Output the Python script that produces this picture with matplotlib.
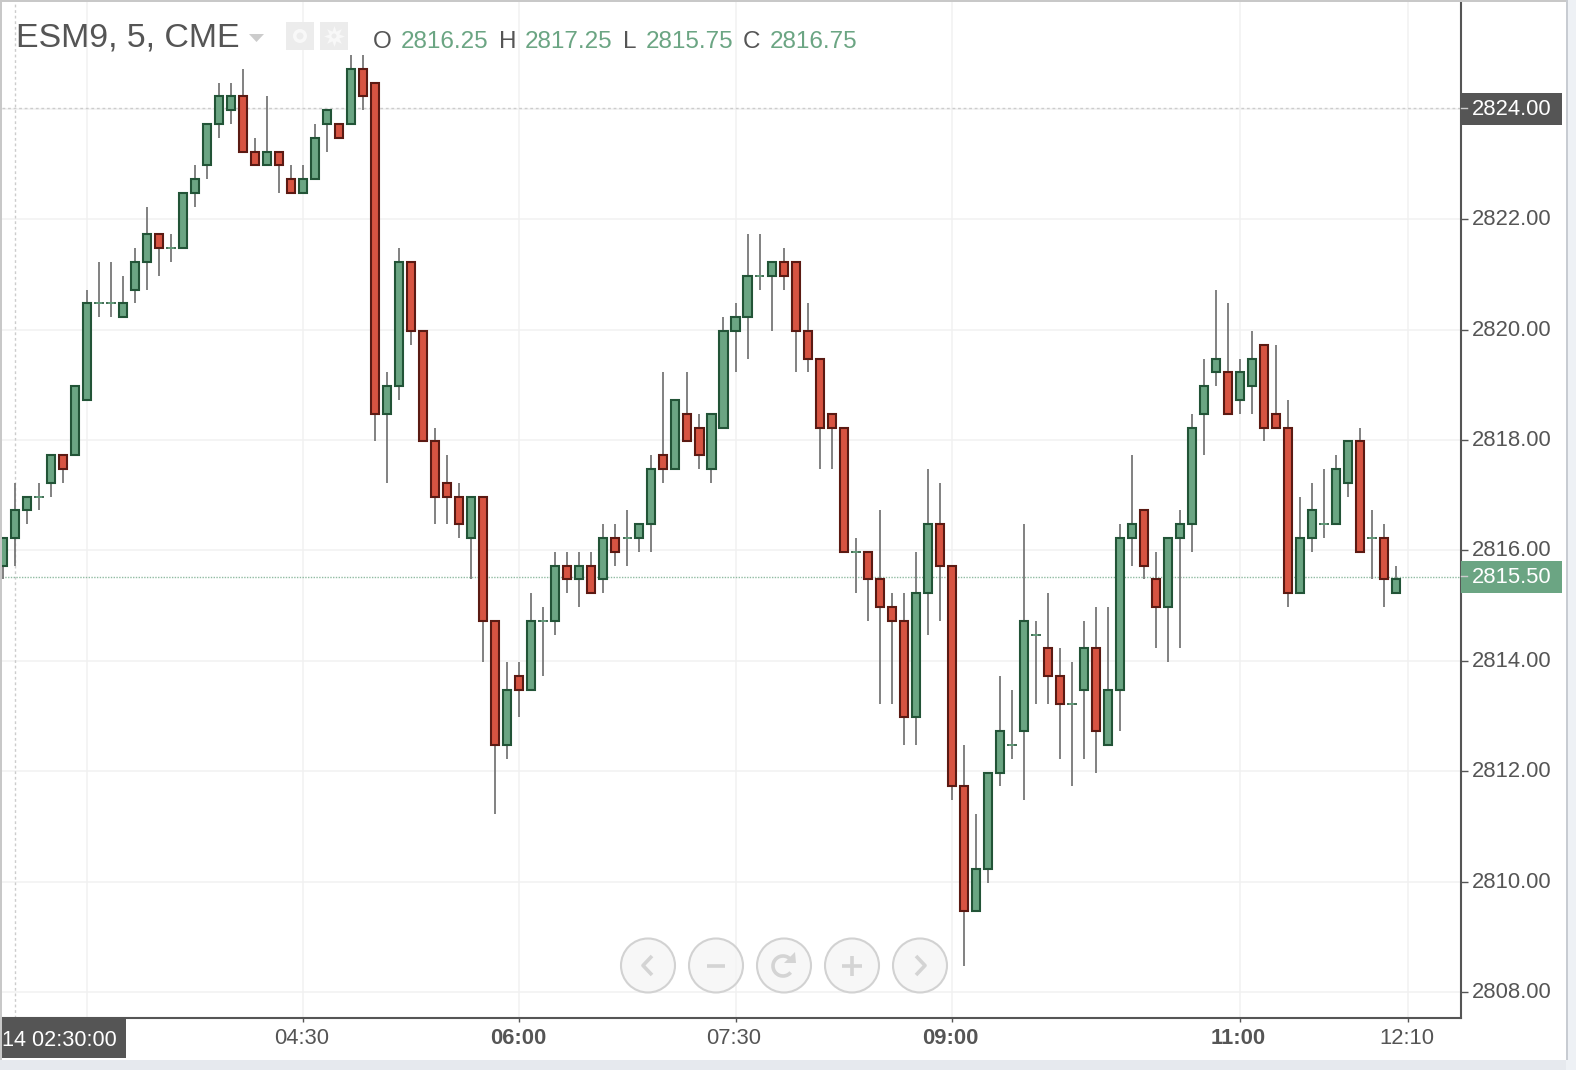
import matplotlib
matplotlib.use("Agg")
import matplotlib.pyplot as plt
from matplotlib.patches import Arc, Circle, Rectangle
from matplotlib.transforms import Affine2D

plt.rcParams["font.family"] = ["Liberation Sans", "DejaVu Sans"]

opens = [
    2815.75, 2816.25, 2816.75, 2817, 2817.25, 2817.75, 2817.75, 2818.75, 2820.5, 2820.5,
    2820.25, 2820.75, 2821.25, 2821.75, 2821.5, 2821.5, 2822.5, 2823, 2823.75, 2824,
    2824.25, 2823.25, 2823, 2823.25, 2822.75, 2822.5, 2822.75, 2823.75, 2823.75, 2823.75,
    2824.75, 2824.5, 2818.5, 2819, 2821.25, 2820, 2818, 2817.25, 2817, 2816.25,
    2817, 2814.75, 2812.5, 2813.75, 2813.5, 2814.75, 2814.75, 2815.75, 2815.5, 2815.75,
    2815.5, 2816.25, 2816.25, 2816.25, 2816.5, 2817.75, 2817.5, 2818.5, 2818.25, 2817.5,
    2818.25, 2820, 2820.25, 2821, 2821, 2821.25, 2821.25, 2820, 2819.5, 2818.5,
    2818.25, 2816, 2816, 2815.5, 2815, 2814.75, 2813, 2815.25, 2816.5, 2815.75,
    2811.75, 2809.5, 2810.25, 2812, 2812.5, 2812.75, 2814.5, 2814.25, 2813.75, 2813.25,
    2813.5, 2814.25, 2812.5, 2813.5, 2816.25, 2816.75, 2815.5, 2815, 2816.25, 2816.5,
    2818.5, 2819.25, 2819.25, 2818.75, 2819, 2819.75, 2818.5, 2818.25, 2815.25, 2816.25,
    2816.5, 2816.5, 2817.25, 2818, 2816.25, 2816.25, 2815.25,
]
highs = [
    2816.25, 2817.25, 2817, 2817.25, 2817.75, 2817.75, 2819, 2820.75, 2821.25, 2821.25,
    2821, 2821.5, 2822.25, 2821.75, 2821.75, 2822.5, 2823, 2823.75, 2824.5, 2824.5,
    2824.75, 2823.5, 2824.25, 2823.25, 2823, 2823, 2823.75, 2824, 2823.75, 2825,
    2825, 2824.5, 2819.25, 2821.5, 2821.25, 2820, 2818.25, 2817.75, 2817.25, 2817,
    2817, 2814.75, 2814, 2814, 2815.25, 2815, 2816, 2816, 2816, 2816,
    2816.5, 2816.5, 2816.75, 2816.5, 2817.75, 2819.25, 2818.75, 2819.25, 2818.5, 2818.5,
    2820.25, 2820.5, 2821.75, 2821.75, 2821.25, 2821.5, 2821.25, 2820.5, 2819.5, 2818.5,
    2818.25, 2816.25, 2816, 2816.75, 2815.25, 2815.25, 2816, 2817.5, 2817.25, 2815.75,
    2812.5, 2811.25, 2812, 2813.75, 2813.5, 2816.5, 2814.75, 2815.25, 2814.25, 2814,
    2814.75, 2815, 2815, 2816.5, 2817.75, 2816.75, 2816, 2816.25, 2816.75, 2818.5,
    2819.5, 2820.75, 2820.5, 2819.5, 2820, 2819.75, 2819.75, 2818.75, 2817, 2817.25,
    2817.5, 2817.75, 2818, 2818.25, 2816.75, 2816.5, 2815.75,
]
lows = [
    2815.5, 2815.75, 2816.5, 2816.75, 2817, 2817.25, 2817.75, 2818.75, 2820.25, 2820.25,
    2820.25, 2820.5, 2820.75, 2821, 2821.25, 2821.5, 2822.25, 2822.75, 2823.5, 2823.75,
    2823.25, 2823, 2823, 2822.5, 2822.5, 2822.5, 2822.75, 2823.25, 2823.5, 2823.75,
    2824, 2818, 2817.25, 2818.75, 2819.75, 2818, 2816.5, 2816.5, 2816.25, 2815.5,
    2814, 2811.25, 2812.25, 2813, 2813.5, 2813.75, 2814.5, 2815.25, 2815, 2815.25,
    2815.25, 2815.75, 2815.75, 2816, 2816, 2817.25, 2817.5, 2818, 2817.5, 2817.25,
    2818.25, 2819.25, 2819.5, 2820.75, 2820, 2820.75, 2819.25, 2819.25, 2817.5, 2817.5,
    2816, 2815.25, 2814.75, 2813.25, 2813.25, 2812.5, 2812.5, 2814.5, 2814.75, 2811.5,
    2808.5, 2809.5, 2810, 2811.75, 2812.25, 2811.5, 2813.25, 2813.25, 2812.25, 2811.75,
    2812.25, 2812, 2812.5, 2812.75, 2815.75, 2815.5, 2814.25, 2814, 2814.25, 2816,
    2817.75, 2819, 2818.5, 2818.5, 2818.5, 2818, 2818.25, 2815, 2815.25, 2816,
    2816.25, 2816.5, 2817, 2816, 2815.5, 2815, 2815.25,
]
closes = [
    2816.25, 2816.75, 2817, 2817, 2817.75, 2817.5, 2819, 2820.5, 2820.5, 2820.5,
    2820.5, 2821.25, 2821.75, 2821.5, 2821.5, 2822.5, 2822.75, 2823.75, 2824.25, 2824.25,
    2823.25, 2823, 2823.25, 2823, 2822.5, 2822.75, 2823.5, 2824, 2823.5, 2824.75,
    2824.25, 2818.5, 2819, 2821.25, 2820, 2818, 2817, 2817, 2816.5, 2817,
    2814.75, 2812.5, 2813.5, 2813.5, 2814.75, 2814.75, 2815.75, 2815.5, 2815.75, 2815.25,
    2816.25, 2816, 2816.25, 2816.5, 2817.5, 2817.5, 2818.75, 2818, 2817.75, 2818.5,
    2820, 2820.25, 2821, 2821, 2821.25, 2821, 2820, 2819.5, 2818.25, 2818.25,
    2816, 2816, 2815.5, 2815, 2814.75, 2813, 2815.25, 2816.5, 2815.75, 2811.75,
    2809.5, 2810.25, 2812, 2812.75, 2812.5, 2814.75, 2814.5, 2813.75, 2813.25, 2813.25,
    2814.25, 2812.75, 2813.5, 2816.25, 2816.5, 2815.75, 2815, 2816.25, 2816.5, 2818.25,
    2819, 2819.5, 2818.5, 2819.25, 2819.5, 2818.25, 2818.25, 2815.25, 2816.25, 2816.75,
    2816.5, 2817.5, 2818, 2816, 2816.25, 2815.5, 2815.5,
]

price_ticks = [2808, 2810, 2812, 2814, 2816, 2818, 2820, 2822, 2824]
# bar number of each time label, 5 minutes a bar, 02:30 is bar 1
time_ticks = [7, 25, 43, 61, 79, 103, 117]
time_labels = ["", "04:30", "06:00", "07:30", "09:00", "11:00", "12:10"]
bold_labels = ["06:00", "09:00", "11:00"]
cross_price = 2824
cross_bar = 1
last_price = 2815.5

GREEN = "#6ba583"
GREEN_EDGE = "#225437"
RED = "#d75442"
RED_EDGE = "#5b1a13"
TEXT = "#555555"
GRID = "#f1f1f1"

fig = plt.figure(figsize=(15.76, 10.7), dpi=100, facecolor="white")

# plot area in pixels, left 2 to 1461, top 2 to 1018
ax = fig.add_axes([2 / 1576, 1 - 1018 / 1070, 1459 / 1576, 1016 / 1070])
ax.set_xlim(-1 / 12, 1458 / 12 - 1 / 12)
px_per_point = 55.2
ax.set_ylim(2824 - (1018 - 108.7) / px_per_point, 2824 + (108.7 - 2) / px_per_point)

# the candles sit a little under the grid in the reference, the price lines a little over
candle_trans = ax.transData + Affine2D().translate(0, -1.5)
line_trans = ax.get_yaxis_transform() + Affine2D().translate(0, 1)

ax.set_axisbelow(True)
ax.grid(True, color=GRID, linewidth=1.1)

cross_line = ax.axhline(cross_price, color="#cccccc", linewidth=1, linestyle=(0, (2, 2)), zorder=1)
cross_line.set_transform(line_trans)
ax.axvline(cross_bar, color="#cccccc", linewidth=1, linestyle=(0, (2, 2)), zorder=1)
last_line = ax.axhline(last_price, color=GREEN, linewidth=1, alpha=0.75, linestyle=(0, (1, 1)), zorder=1)
last_line.set_transform(line_trans)

bars = list(range(len(opens)))
ax.vlines(bars, lows, highs, color="#777777", linewidth=1.3, zorder=2, transform=candle_trans)

for i in bars:
    if opens[i] == closes[i]:
        ax.hlines(opens[i], i - 0.41, i + 0.41, color=GREEN_EDGE, linewidth=1.2, zorder=3, transform=candle_trans)
        ax.hlines(opens[i], i - 0.22, i + 0.22, color=GREEN, linewidth=1.2, zorder=3, transform=candle_trans)
        continue
    up = closes[i] > opens[i]
    ax.bar(
        i,
        abs(closes[i] - opens[i]),
        bottom=min(opens[i], closes[i]),
        width=0.67,
        color=GREEN if up else RED,
        edgecolor=GREEN_EDGE if up else RED_EDGE,
        linewidth=1.5,
        zorder=3,
        transform=candle_trans,
    )

ax.set_xticks(time_ticks)
ax.set_xticklabels(time_labels)
ax.set_yticks(price_ticks)
ax.set_yticklabels([f"{p:.2f}" for p in price_ticks])
ax.yaxis.tick_right()
ax.tick_params(axis="y", length=5, width=1, color=TEXT, labelcolor=TEXT, labelsize=15.8, pad=3)
ax.tick_params(axis="x", length=3, width=1, color=TEXT, labelcolor=TEXT, labelsize=15.8, pad=3)
for label in ax.get_xticklabels():
    if label.get_text() in bold_labels:
        label.set_fontweight("bold")
    label.set_transform(label.get_transform() + Affine2D().translate(-1.5, -2))
for label in ax.get_yticklabels():
    label.set_transform(label.get_transform() + Affine2D().translate(0, 2))

for side in ["top", "left"]:
    ax.spines[side].set_visible(False)
for side in ["right", "bottom"]:
    ax.spines[side].set_color(TEXT)
    ax.spines[side].set_linewidth(1.5)

# page chrome and widgets, drawn in pixels
top = fig.add_axes([0, 0, 1, 1], facecolor="none")
top.set_xlim(0, 1576)
top.set_ylim(1070, 0)
top.axis("off")

top.add_patch(Rectangle((0, 0), 1576, 2, color="#c8c8c8", lw=0))
top.add_patch(Rectangle((0, 0), 2, 1060, color="#c8c8c8", lw=0))
top.add_patch(Rectangle((0, 1060), 1576, 10, color="#e6e9ee", lw=0))
top.add_patch(Rectangle((1566, 0), 10, 1070, color="#eef1f5", lw=0))
top.add_patch(Rectangle((1566, 0), 2, 1060, color="#c8ccd2", lw=0))

top.text(16.5, 38, "ESM9, 5, CME", color=TEXT, fontsize=24.4, va="center", ha="left")
top.fill([249, 264, 256.5], [34, 34, 42], color="#cccccc", lw=0)
for box_x in [286, 320]:
    top.add_patch(Rectangle((box_x, 22), 28, 28, color="#ececec", lw=0))
top.add_patch(Circle((300, 36), 7, fc="#f8f8f8", ec="none"))
top.add_patch(Circle((300, 36), 3.5, fc="#ececec", ec="none"))
top.plot([334], [36], marker=(8, 1, 0), ms=15, color="#f8f8f8", mew=0)
top.add_patch(Circle((334, 36), 2.5, fc="#ececec", ec="none", zorder=5))

ohlc_letters = [("O", 372.5), ("H", 499), ("L", 623), ("C", 743)]
ohlc_values = [(opens[cross_bar], 401), (highs[cross_bar], 525), (lows[cross_bar], 646), (closes[cross_bar], 770)]
for letter, x in ohlc_letters:
    top.text(x, 42, letter, color=TEXT, fontsize=17.5, va="center", ha="left")
for value, x in ohlc_values:
    top.text(x, 42, f"{value:.2f}", color=GREEN, fontsize=17.5, va="center", ha="left")

# price and time flags
top.add_patch(Rectangle((1461, 93), 101, 32, color=TEXT, lw=0))
top.text(1471.5, 109.5, f"{cross_price:.2f}", color="white", fontsize=15.8, va="center", ha="left")
top.add_patch(Rectangle((1461, 561), 101, 32, color=GREEN, lw=0))
top.text(1471.5, 577.5, f"{last_price:.2f}", color="white", fontsize=15.8, va="center", ha="left")
top.add_patch(Rectangle((2, 1018), 124, 40, color=TEXT, lw=0))
top.text(2, 1040, "14 02:30:00", color="white", fontsize=15.6, va="center", ha="left")
top.plot([1461, 1467], [107.7, 107.7], color="#cccccc", lw=1)
top.plot([1461, 1467], [576, 576], color="#cccccc", lw=1)

# navigation buttons
LIGHT = "#d4d4d4"
for cx in [648, 716, 784, 852, 920]:
    top.add_patch(Circle((cx, 965.5), 27, fc=(0.96, 0.96, 0.96, 0.75), ec="#d2d2d2", lw=1.5))
top.plot([652, 643, 652], [956, 965.5, 975], color=LIGHT, lw=2.6, solid_capstyle="butt")
top.plot([707, 725], [965.5, 965.5], color=LIGHT, lw=2.6, solid_capstyle="butt")
top.add_patch(Arc((783, 966), 20, 20, theta1=40, theta2=320, color=LIGHT, lw=2.6))
top.fill([784, 796, 795], [963, 963, 952], color=LIGHT, lw=0)
top.plot([842, 862], [965.5, 965.5], color=LIGHT, lw=2.6, solid_capstyle="butt")
top.plot([852, 852], [956, 976], color=LIGHT, lw=2.6, solid_capstyle="butt")
top.plot([916, 925, 916], [956, 965.5, 975], color=LIGHT, lw=2.6, solid_capstyle="butt")

fig.savefig("out.png", dpi=100)
